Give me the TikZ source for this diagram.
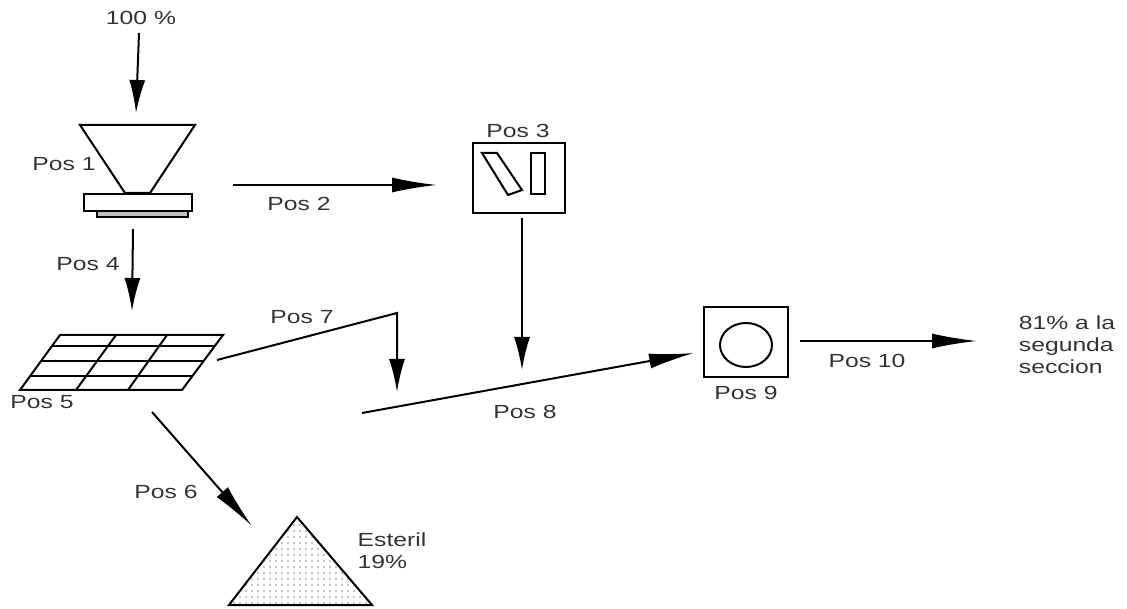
\documentclass[tikz,border=0pt]{standalone}
\usepackage{fontspec}
\setmainfont[FakeStretch=1.3]{Liberation Sans}
\usepackage{tikz}
\usetikzlibrary{arrows.meta,patterns.meta}
\tikzset{
  flowarrow/.style={-{Latex[length=33pt,width=16pt]}, line width=2pt},
  longarrow/.style={-{Latex[length=45pt,width=15pt]}, line width=2pt},
  part/.style={draw, line width=2pt},
  machine/.style={draw, line width=2.2pt, inner sep=0pt},
  poslabel/.style={font=\fontsize{19}{22}\selectfont, text=black!80, inner sep=0pt, align=left}
}

\begin{document}
\begin{tikzpicture}[x=1pt, y=-1pt]
      \useasboundingbox (0,0) rectangle (1127,609);
      % hopper and feeder
      \draw[part] (80,125) -- (195,125) -- (150,193) -- (125,193) -- cycle;
      \node[machine, minimum width=108pt, minimum height=17pt] (tray) at (138,202.5) {};
      \draw[part, fill=black!25] (97,211) rectangle (188,217);
      % screen
      \draw[part] (60,335) -- (223,335) -- (182,390) -- (20,390) -- cycle;
      \draw[part] (52,346) -- (215,346) (41,361) -- (204,361) (30,376) -- (193,376);
      \draw[part] (116,335) -- (76,390) (167,335) -- (128,390);
      % crusher and mill
      \node[machine, minimum width=92pt, minimum height=70pt] (crusher) at (519,178) {};
      \draw[part] (482,153) -- (497,153) -- (522,190) -- (508,195) -- cycle;
      \draw[part] (531,153) rectangle (545,194);
      \node[machine, minimum width=84pt, minimum height=70pt] (mill) at (746,342) {};
      \draw[part] (746,345) ellipse (26pt and 22pt);
      % tailings pile
      \draw[part, preaction={pattern={Dots[distance=6pt,radius=0.7pt]},pattern color=black}] (297,517) -- (372,605) -- (229,605) -- cycle;
      % free ends
      \coordinate (feedtop) at (139,33);
      \coordinate (feedend) at (136,113);
      \coordinate (p2a) at (233,185);
      \coordinate (p2b) at (437,185);
      \coordinate (p3a) at (522,218);
      \coordinate (p3b) at (522,370);
      \coordinate (p4a) at (133,229);
      \coordinate (p4b) at (132,311);
      \coordinate (p6a) at (152,412);
      \coordinate (p6b) at (252,526);
      \coordinate (p7a) at (217,360);
      \coordinate (p7c) at (397,313);
      \coordinate (p7b) at (397,392);
      \coordinate (p8a) at (362,413);
      \coordinate (p8b) at (694,353);
      \coordinate (p10a) at (800,341);
      \coordinate (p10b) at (977,341);
      \draw[flowarrow] (feedtop) -- (feedend);
      \draw[longarrow] (p2a) -- (p2b);
      \draw[flowarrow] (p3a) -- (p3b);
      \draw[flowarrow] (p4a) -- (p4b);
      \draw[longarrow] (p6a) -- (p6b);
      \draw[flowarrow] (p7a) -- (p7c) -- (p7b);
      \draw[longarrow] (p8a) -- (p8b);
      \draw[longarrow] (p10a) -- (p10b);
      % labels
      \node[poslabel] (feed) at (141,18) {100 \%};
      \node[poslabel] (pos1) at (64,164) {Pos 1};
      \node[poslabel] (pos2) at (299,204) {Pos 2};
      \node[poslabel] (pos3) at (518,131) {Pos 3};
      \node[poslabel] (pos4) at (88,264) {Pos 4};
      \node[poslabel] (pos5) at (42,402) {Pos 5};
      \node[poslabel] (pos6) at (166,492) {Pos 6};
      \node[poslabel] (pos7) at (302,317) {Pos 7};
      \node[poslabel] (pos8) at (525,412) {Pos 8};
      \node[poslabel] (pos9) at (746,393) {Pos 9};
      \node[poslabel] (pos10) at (867,361) {Pos 10};
      \node[poslabel] (esteril) at (392,551) {Esteril\\19\%};
      \node[poslabel] (salida) at (1067,345) {81\% a la\\segunda\\seccion};
    \end{tikzpicture}
\end{document}
